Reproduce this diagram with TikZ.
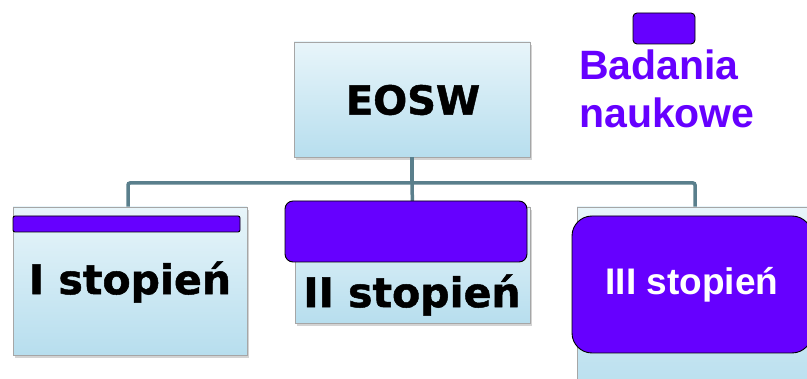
\documentclass[tikz,border=0pt]{standalone}
\usepackage{fontspec}
\setmainfont{Liberation Sans}
\newfontfamily\verdfont[BoldFeatures={FakeBold=1.2}]{DejaVu Sans}
\usetikzlibrary{shadows}
\definecolor{fiolet}{RGB}{102,0,255}
\definecolor{linia}{RGB}{90,127,140}
\definecolor{jasny}{RGB}{232,245,250}
\definecolor{ciemny}{RGB}{183,222,238}

\begin{document}
\begin{tikzpicture}[x=1pt,y=-1pt,
  box/.style={draw=gray!70,line width=0.8pt,top color=jasny,bottom color=ciemny,
    drop shadow={opacity=0.35,shadow xshift=2pt,shadow yshift=-3pt},
    inner sep=0pt,anchor=center},
  purp/.style={draw=black,line width=0.9pt,fill=fiolet,inner sep=0pt},
  boxtext/.style={font=\verdfont\bfseries\fontsize{41}{41}\selectfont,inner sep=0pt},
  conn/.style={draw=linia,line width=3.5pt}]
\useasboundingbox (0,0) rectangle (807,379);
% boxes
\node[box,minimum width=236pt,minimum height=115pt] (eosw) at (412,99.5) {};
\node[box,minimum width=234pt,minimum height=148pt] (st1) at (130,281) {};
\node[box,minimum width=235pt,minimum height=116pt] (st2) at (412.5,265) {};
\node[box,minimum width=246pt,minimum height=192pt] (st3) at (700,303) {};
% connectors
\coordinate (bus) at (412,183);
\draw[conn] (eosw.south) -- (bus);
\draw[conn,rounded corners=2pt] ([xshift=-2pt]st1.north) |- (bus) -| ([xshift=-5pt]st3.north);
\draw[conn] (bus) -- (st2.north);
% purple parts
\node[purp,rounded corners=2pt,minimum width=227pt,minimum height=16pt] (bar1) at (126.5,224) {};
\node[purp,rounded corners=8pt,minimum width=242pt,minimum height=61pt] (bar2) at (406,231.5) {};
\node[purp,rounded corners=20pt,minimum width=240pt,minimum height=137pt,text=white,
  font=\bfseries\fontsize{37}{37}\selectfont] (bar3) at (692,284.5) {III stopień};
% texts
\node[boxtext,font=\verdfont\bfseries\fontsize{40}{40}\selectfont] (t0) at (413,100) {EOSW};
\node[boxtext] (t1) at (130,282) {I stopień};
\node[boxtext] (t2) at (412,295) {II stopień};
% legend
\node[purp,rounded corners=4pt,minimum width=62pt,minimum height=31pt] (klucz) at (664,28.5) {};
\node[anchor=north west,inner sep=0pt,align=left,text=fiolet,
  font=\bfseries\fontsize{41}{48}\selectfont] (opis) at (579,50) {Badania\\naukowe};
\end{tikzpicture}
\end{document}
